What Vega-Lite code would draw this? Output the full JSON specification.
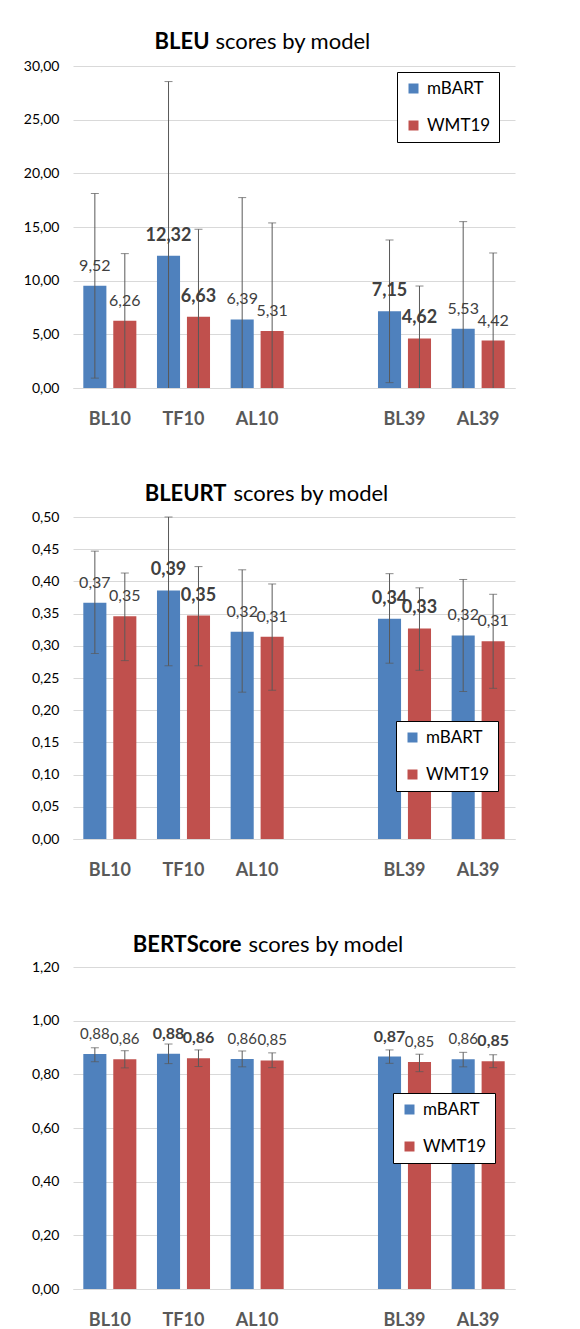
{
  "$schema": "https://vega.github.io/schema/vega-lite/v6.json",
  "padding": {"left": 23, "top": 30, "right": 5, "bottom": 5},
  "spacing": 54,
  "config": {
    "locale": {"number": {"decimal": ",", "thousands": ".", "grouping": [3], "currency": ["", " €"]}},
    "view": {"stroke": null},
    "font": "Lato",
    "axis": {"grid": false, "ticks": false, "labelFont": "Lato", "titleFont": "Lato", "labelOverlap": false},
    "legend": {"labelFont": "Lato"}
  },
  "datasets": {
    "bleu": [
      {"cat": "BL10", "model": "mBART", "value": 9.52, "lo": 0.92, "hi": 18.12, "capLo": 0.92, "bold": false},
      {"cat": "BL10", "model": "WMT19", "value": 6.26, "lo": 0.02, "hi": 12.52, "capLo": null, "bold": false},
      {"cat": "TF10", "model": "mBART", "value": 12.32, "lo": 0, "hi": 28.55, "capLo": null, "bold": true},
      {"cat": "TF10", "model": "WMT19", "value": 6.63, "lo": 0, "hi": 14.79, "capLo": null, "bold": true},
      {"cat": "AL10", "model": "mBART", "value": 6.39, "lo": 0, "hi": 17.74, "capLo": null, "bold": false},
      {"cat": "AL10", "model": "WMT19", "value": 5.31, "lo": 0, "hi": 15.38, "capLo": null, "bold": false},
      {"cat": "BL39", "model": "mBART", "value": 7.15, "lo": 0.5, "hi": 13.79, "capLo": 0.5, "bold": true},
      {"cat": "BL39", "model": "WMT19", "value": 4.62, "lo": 0, "hi": 9.5, "capLo": null, "bold": true},
      {"cat": "AL39", "model": "mBART", "value": 5.53, "lo": 0, "hi": 15.5, "capLo": null, "bold": false},
      {"cat": "AL39", "model": "WMT19", "value": 4.42, "lo": 0, "hi": 12.58, "capLo": null, "bold": false}
    ],
    "bleurt": [
      {"cat": "BL10", "model": "mBART", "value": 0.367, "lo": 0.288, "hi": 0.447, "capLo": 0.288, "bold": false},
      {"cat": "BL10", "model": "WMT19", "value": 0.346, "lo": 0.277, "hi": 0.413, "capLo": 0.277, "bold": false},
      {"cat": "TF10", "model": "mBART", "value": 0.386, "lo": 0.269, "hi": 0.5, "capLo": 0.269, "bold": true},
      {"cat": "TF10", "model": "WMT19", "value": 0.347, "lo": 0.269, "hi": 0.423, "capLo": 0.269, "bold": true},
      {"cat": "AL10", "model": "mBART", "value": 0.322, "lo": 0.228, "hi": 0.418, "capLo": 0.228, "bold": false},
      {"cat": "AL10", "model": "WMT19", "value": 0.314, "lo": 0.231, "hi": 0.396, "capLo": 0.231, "bold": false},
      {"cat": "BL39", "model": "mBART", "value": 0.342, "lo": 0.273, "hi": 0.412, "capLo": 0.273, "bold": true},
      {"cat": "BL39", "model": "WMT19", "value": 0.327, "lo": 0.262, "hi": 0.39, "capLo": 0.262, "bold": true},
      {"cat": "AL39", "model": "mBART", "value": 0.316, "lo": 0.229, "hi": 0.403, "capLo": 0.229, "bold": false},
      {"cat": "AL39", "model": "WMT19", "value": 0.307, "lo": 0.234, "hi": 0.38, "capLo": 0.234, "bold": false}
    ],
    "bertscore": [
      {"cat": "BL10", "model": "mBART", "value": 0.876, "lo": 0.847, "hi": 0.899, "capLo": 0.847, "bold": false},
      {"cat": "BL10", "model": "WMT19", "value": 0.856, "lo": 0.824, "hi": 0.888, "capLo": 0.824, "bold": false},
      {"cat": "TF10", "model": "mBART", "value": 0.877, "lo": 0.84, "hi": 0.913, "capLo": 0.84, "bold": true},
      {"cat": "TF10", "model": "WMT19", "value": 0.86, "lo": 0.829, "hi": 0.891, "capLo": 0.829, "bold": true},
      {"cat": "AL10", "model": "mBART", "value": 0.857, "lo": 0.828, "hi": 0.887, "capLo": 0.828, "bold": false},
      {"cat": "AL10", "model": "WMT19", "value": 0.852, "lo": 0.825, "hi": 0.88, "capLo": 0.825, "bold": false},
      {"cat": "BL39", "model": "mBART", "value": 0.866, "lo": 0.841, "hi": 0.891, "capLo": 0.841, "bold": true},
      {"cat": "BL39", "model": "WMT19", "value": 0.846, "lo": 0.81, "hi": 0.875, "capLo": 0.81, "bold": false},
      {"cat": "AL39", "model": "mBART", "value": 0.856, "lo": 0.828, "hi": 0.882, "capLo": 0.828, "bold": false},
      {"cat": "AL39", "model": "WMT19", "value": 0.849, "lo": 0.825, "hi": 0.873, "capLo": 0.825, "bold": true}
    ]
  },
  "resolve": {
    "scale": {"x": "independent", "y": "independent", "color": "independent"},
    "axis": {"x": "independent", "y": "independent"},
    "legend": {"color": "independent"}
  },
  "vconcat": [
    {
      "width": 442, "height": 322,
      "data": {"name": "bleu"},
      "encoding": {
        "x": {"field": "cat", "type": "nominal", "sort": null,
          "scale": {"domain": ["BL10", "TF10", "AL10", " ", "BL39", "AL39"], "paddingInner": 0.28, "paddingOuter": 0.14},
          "axis": {"labelAngle": 0, "labelFontSize": 18, "labelFontWeight": "bold", "labelColor": "#595959", "labelPadding": 22,
            "domainColor": "#D9D9D9", "title": "scores by model", "titleFontSize": 22, "titleFontWeight": "normal", "titleColor": "#000",
            "titleX": 142, "titleY": -340, "titleAlign": "left", "titleBaseline": "alphabetic", "titleAnchor": null}},
        "xOffset": {"field": "model", "type": "nominal", "scale": {"domain": ["mBART", "WMT19"], "paddingInner": 0.23}}
      },
      "layer": [
        {"mark": {"type": "bar"},
          "encoding": {
            "y": {"field": "value", "type": "quantitative", "title": "BLEU", "scale": {"domain": [0, 30], "nice": false},
              "axis": {"values": [0, 5, 10, 15, 20, 25, 30], "tickCount": 20, "format": ".2f", "grid": true, "gridColor": "#D9D9D9", "domain": false,
                "labelFontSize": 14, "labelColor": "#000", "labelPadding": 14, "labelOverlap": false,
                "title": "BLEU", "titleAngle": 0, "titleX": 136, "titleY": -18, "titleAlign": "right", "titleBaseline": "alphabetic",
                "titleFontSize": 22, "titleFontWeight": "bold", "titleColor": "#000"}},
            "color": {"field": "model", "type": "nominal", "scale": {"domain": ["mBART", "WMT19"], "range": ["#4F81BD", "#C0504D"]},
              "legend": {"title": null, "orient": "none", "legendX": 324, "legendY": 6, "symbolType": "square", "symbolSize": 100,
                "labelFontSize": 17, "labelColor": "#000", "strokeColor": "#000", "fillColor": "#fff", "padding": 8, "rowPadding": 19, "labelOffset": 5}}
          }},
        {"mark": {"type": "rule", "color": "#595959", "strokeWidth": 1},
          "encoding": {"y": {"field": "lo", "type": "quantitative", "title": "BLEU", "scale": {"domain": [0, 30], "nice": false},
            "axis": {"values": [0, 5, 10, 15, 20, 25, 30], "tickCount": 20, "format": ".2f", "grid": true, "gridColor": "#D9D9D9", "domain": false,
                "labelFontSize": 14, "labelColor": "#000", "labelPadding": 14, "labelOverlap": false,
                "title": "BLEU", "titleAngle": 0, "titleX": 136, "titleY": -18, "titleAlign": "right", "titleBaseline": "alphabetic",
                "titleFontSize": 22, "titleFontWeight": "bold", "titleColor": "#000"}}, "y2": {"field": "hi"}}},
        {"mark": {"type": "tick", "color": "#595959", "thickness": 1, "size": 8},
          "encoding": {"y": {"field": "hi", "type": "quantitative", "title": "BLEU", "scale": {"domain": [0, 30], "nice": false}}}},
        {"transform": [{"filter": "isValid(datum.capLo)"}],
          "mark": {"type": "tick", "color": "#595959", "thickness": 1, "size": 8},
          "encoding": {"y": {"field": "capLo", "type": "quantitative", "title": "BLEU", "scale": {"domain": [0, 30], "nice": false}}}},
        {"transform": [{"filter": "!datum.bold"}],
          "mark": {"type": "text", "fontSize": 16, "color": "#404040", "dy": -20, "baseline": "middle"},
          "encoding": {"y": {"field": "value", "type": "quantitative", "title": "BLEU", "scale": {"domain": [0, 30], "nice": false}},
            "text": {"field": "value", "type": "quantitative", "format": ".2f"}}},
        {"transform": [{"filter": "datum.bold"}],
          "mark": {"type": "text", "fontSize": 18, "fontWeight": "bold", "color": "#404040", "dy": -20, "baseline": "middle"},
          "encoding": {"y": {"field": "value", "type": "quantitative", "title": "BLEU", "scale": {"domain": [0, 30], "nice": false}},
            "text": {"field": "value", "type": "quantitative", "format": ".2f"}}}
      ]
    },
    {
      "width": 442, "height": 322,
      "data": {"name": "bleurt"},
      "encoding": {
        "x": {"field": "cat", "type": "nominal", "sort": null,
          "scale": {"domain": ["BL10", "TF10", "AL10", " ", "BL39", "AL39"], "paddingInner": 0.28, "paddingOuter": 0.14},
          "axis": {"labelAngle": 0, "labelFontSize": 18, "labelFontWeight": "bold", "labelColor": "#595959", "labelPadding": 22,
            "domainColor": "#D9D9D9", "title": "scores by model", "titleFontSize": 22, "titleFontWeight": "normal", "titleColor": "#000",
            "titleX": 160, "titleY": -339, "titleAlign": "left", "titleBaseline": "alphabetic", "titleAnchor": null}},
        "xOffset": {"field": "model", "type": "nominal", "scale": {"domain": ["mBART", "WMT19"], "paddingInner": 0.23}}
      },
      "layer": [
        {"mark": {"type": "bar"},
          "encoding": {
            "y": {"field": "value", "type": "quantitative", "title": "BLEURT", "scale": {"domain": [0, 0.5], "nice": false},
              "axis": {"values": [0, 0.05, 0.1, 0.15, 0.2, 0.25, 0.3, 0.35, 0.4, 0.45, 0.5], "tickCount": 20, "format": ".2f", "grid": true, "gridColor": "#D9D9D9", "domain": false,
                "labelFontSize": 14, "labelColor": "#000", "labelPadding": 14, "labelOverlap": false,
                "title": "BLEURT", "titleAngle": 0, "titleX": 153, "titleY": -17, "titleAlign": "right", "titleBaseline": "alphabetic",
                "titleFontSize": 22, "titleFontWeight": "bold", "titleColor": "#000"}},
            "color": {"field": "model", "type": "nominal", "scale": {"domain": ["mBART", "WMT19"], "range": ["#4F81BD", "#C0504D"]},
              "legend": {"title": null, "orient": "none", "legendX": 323, "legendY": 204, "symbolType": "square", "symbolSize": 100,
                "labelFontSize": 17, "labelColor": "#000", "strokeColor": "#000", "fillColor": "#fff", "padding": 8, "rowPadding": 19, "labelOffset": 5}}
          }},
        {"mark": {"type": "rule", "color": "#595959", "strokeWidth": 1},
          "encoding": {"y": {"field": "lo", "type": "quantitative", "title": "BLEURT", "scale": {"domain": [0, 0.5], "nice": false},
            "axis": {"values": [0, 0.05, 0.1, 0.15, 0.2, 0.25, 0.3, 0.35, 0.4, 0.45, 0.5], "tickCount": 20, "format": ".2f", "grid": true, "gridColor": "#D9D9D9", "domain": false,
                "labelFontSize": 14, "labelColor": "#000", "labelPadding": 14, "labelOverlap": false,
                "title": "BLEURT", "titleAngle": 0, "titleX": 153, "titleY": -17, "titleAlign": "right", "titleBaseline": "alphabetic",
                "titleFontSize": 22, "titleFontWeight": "bold", "titleColor": "#000"}}, "y2": {"field": "hi"}}},
        {"mark": {"type": "tick", "color": "#595959", "thickness": 1, "size": 8},
          "encoding": {"y": {"field": "hi", "type": "quantitative", "title": "BLEURT", "scale": {"domain": [0, 0.5], "nice": false}}}},
        {"transform": [{"filter": "isValid(datum.capLo)"}],
          "mark": {"type": "tick", "color": "#595959", "thickness": 1, "size": 8},
          "encoding": {"y": {"field": "capLo", "type": "quantitative", "title": "BLEURT", "scale": {"domain": [0, 0.5], "nice": false}}}},
        {"transform": [{"filter": "!datum.bold"}],
          "mark": {"type": "text", "fontSize": 16, "color": "#404040", "dy": -20, "baseline": "middle"},
          "encoding": {"y": {"field": "value", "type": "quantitative", "title": "BLEURT", "scale": {"domain": [0, 0.5], "nice": false}},
            "text": {"field": "value", "type": "quantitative", "format": ".2f"}}},
        {"transform": [{"filter": "datum.bold"}],
          "mark": {"type": "text", "fontSize": 18, "fontWeight": "bold", "color": "#404040", "dy": -20, "baseline": "middle"},
          "encoding": {"y": {"field": "value", "type": "quantitative", "title": "BLEURT", "scale": {"domain": [0, 0.5], "nice": false}},
            "text": {"field": "value", "type": "quantitative", "format": ".2f"}}}
      ]
    },
    {
      "width": 442, "height": 322,
      "data": {"name": "bertscore"},
      "encoding": {
        "x": {"field": "cat", "type": "nominal", "sort": null,
          "scale": {"domain": ["BL10", "TF10", "AL10", " ", "BL39", "AL39"], "paddingInner": 0.28, "paddingOuter": 0.14},
          "axis": {"labelAngle": 0, "labelFontSize": 18, "labelFontWeight": "bold", "labelColor": "#595959", "labelPadding": 22,
            "domainColor": "#D9D9D9", "title": "scores by model", "titleFontSize": 22, "titleFontWeight": "normal", "titleColor": "#000",
            "titleX": 175, "titleY": -338, "titleAlign": "left", "titleBaseline": "alphabetic", "titleAnchor": null}},
        "xOffset": {"field": "model", "type": "nominal", "scale": {"domain": ["mBART", "WMT19"], "paddingInner": 0.23}}
      },
      "layer": [
        {"mark": {"type": "bar"},
          "encoding": {
            "y": {"field": "value", "type": "quantitative", "title": "BERTScore", "scale": {"domain": [0, 1.2], "nice": false},
              "axis": {"values": [0, 0.2, 0.4, 0.6, 0.8, 1.0, 1.2], "tickCount": 20, "format": ".2f", "grid": true, "gridColor": "#D9D9D9", "domain": false,
                "labelFontSize": 14, "labelColor": "#000", "labelPadding": 14, "labelOverlap": false,
                "title": "BERTScore", "titleAngle": 0, "titleX": 168, "titleY": -16, "titleAlign": "right", "titleBaseline": "alphabetic",
                "titleFontSize": 22, "titleFontWeight": "bold", "titleColor": "#000"}},
            "color": {"field": "model", "type": "nominal", "scale": {"domain": ["mBART", "WMT19"], "range": ["#4F81BD", "#C0504D"]},
              "legend": {"title": null, "orient": "none", "legendX": 320, "legendY": 126, "symbolType": "square", "symbolSize": 100,
                "labelFontSize": 17, "labelColor": "#000", "strokeColor": "#000", "fillColor": "#fff", "padding": 8, "rowPadding": 19, "labelOffset": 5}}
          }},
        {"mark": {"type": "rule", "color": "#595959", "strokeWidth": 1},
          "encoding": {"y": {"field": "lo", "type": "quantitative", "title": "BERTScore", "scale": {"domain": [0, 1.2], "nice": false},
            "axis": {"values": [0, 0.2, 0.4, 0.6, 0.8, 1.0, 1.2], "tickCount": 20, "format": ".2f", "grid": true, "gridColor": "#D9D9D9", "domain": false,
                "labelFontSize": 14, "labelColor": "#000", "labelPadding": 14, "labelOverlap": false,
                "title": "BERTScore", "titleAngle": 0, "titleX": 168, "titleY": -16, "titleAlign": "right", "titleBaseline": "alphabetic",
                "titleFontSize": 22, "titleFontWeight": "bold", "titleColor": "#000"}}, "y2": {"field": "hi"}}},
        {"mark": {"type": "tick", "color": "#595959", "thickness": 1, "size": 8},
          "encoding": {"y": {"field": "hi", "type": "quantitative", "title": "BERTScore", "scale": {"domain": [0, 1.2], "nice": false}}}},
        {"transform": [{"filter": "isValid(datum.capLo)"}],
          "mark": {"type": "tick", "color": "#595959", "thickness": 1, "size": 8},
          "encoding": {"y": {"field": "capLo", "type": "quantitative", "title": "BERTScore", "scale": {"domain": [0, 1.2], "nice": false}}}},
        {"transform": [{"filter": "!datum.bold"}],
          "mark": {"type": "text", "fontSize": 15, "color": "#404040", "dy": -20, "baseline": "middle"},
          "encoding": {"y": {"field": "value", "type": "quantitative", "title": "BERTScore", "scale": {"domain": [0, 1.2], "nice": false}},
            "text": {"field": "value", "type": "quantitative", "format": ".2f"}}},
        {"transform": [{"filter": "datum.bold"}],
          "mark": {"type": "text", "fontSize": 16, "fontWeight": "bold", "color": "#404040", "dy": -20, "baseline": "middle"},
          "encoding": {"y": {"field": "value", "type": "quantitative", "title": "BERTScore", "scale": {"domain": [0, 1.2], "nice": false}},
            "text": {"field": "value", "type": "quantitative", "format": ".2f"}}}
      ]
    }
  ]
}
